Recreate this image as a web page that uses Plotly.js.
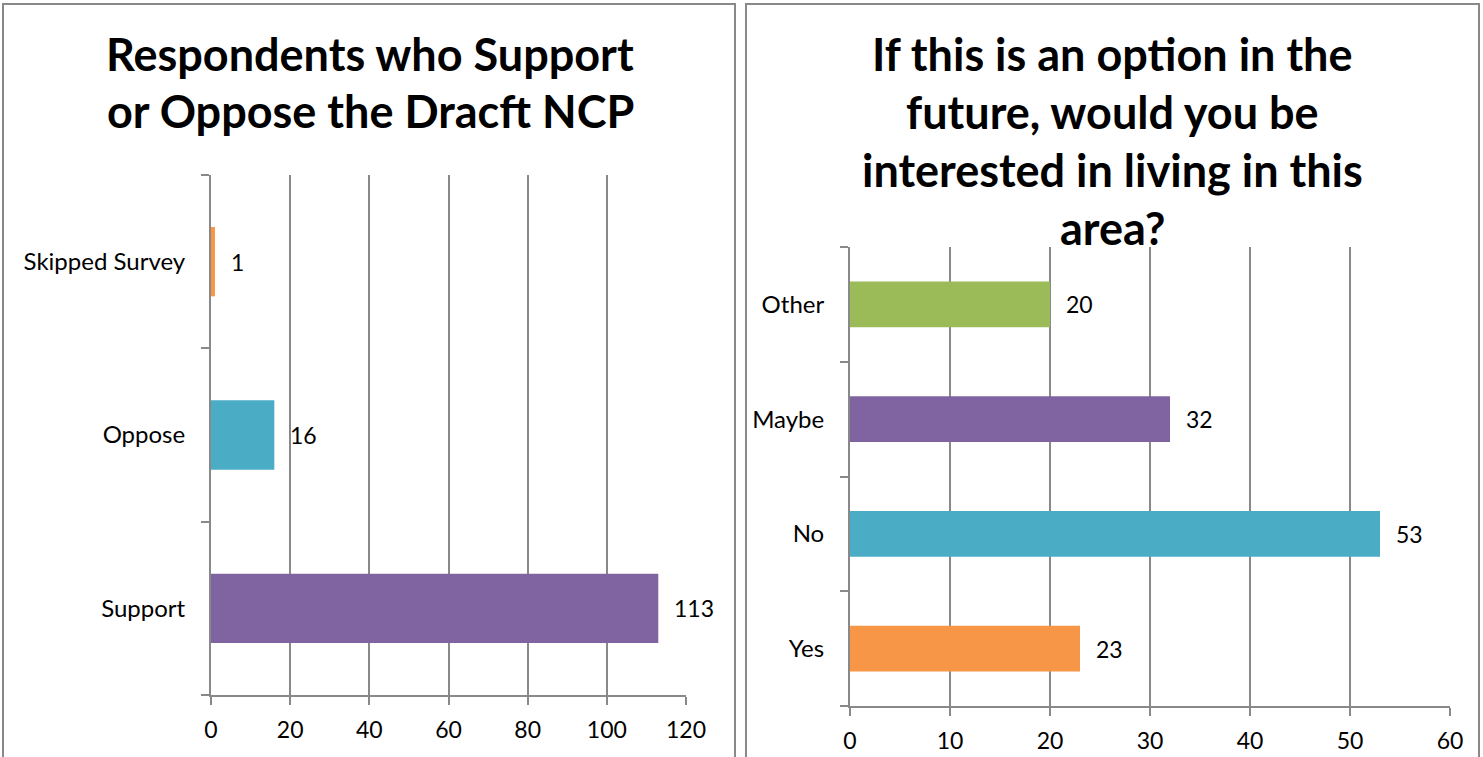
<!DOCTYPE html>
<html>
<head>
<meta charset="utf-8">
<script src="https://cdn.plot.ly/plotly-3.0.1.min.js"></script>
<style>html,body{margin:0;padding:0;background:#fff;}#chart{width:1483px;height:757px;}</style>
</head>
<body>
<div id="chart"></div>
<script>
// ---- Data ----
const leftCategories = ["Support", "Oppose", "Skipped Survey"];
const leftValues = [113, 16, 1];
const leftColors = ["#8064A2", "#4BACC6", "#F79646"];
const leftTitleLines = ["Respondents who Support", "or Oppose the Dracft NCP"];
const leftTicks = [0, 20, 40, 60, 80, 100, 120];

const rightCategories = ["Yes", "No", "Maybe", "Other"];
const rightValues = [23, 53, 32, 20];
const rightColors = ["#F79646", "#4BACC6", "#8064A2", "#9BBB59"];
const rightTitleLines = ["If this is an option in the", "future, would you be", "interested in living in this", "area?"];
const rightTicks = [0, 10, 20, 30, 40, 50, 60];

// ---- Layout helpers ----
const W = 1483, H = 757;
const px = x => x / W;
const py = y => 1 - y / H;
const FONT = "Lato, 'Open Sans', sans-serif";
const GRID = "#898989";

const traces = [
  {type: "bar", orientation: "h", x: leftValues, y: leftCategories,
   marker: {color: leftColors}, xaxis: "x", yaxis: "y", hoverinfo: "skip"},
  {type: "bar", orientation: "h", x: rightValues, y: rightCategories,
   marker: {color: rightColors}, xaxis: "x2", yaxis: "y2", hoverinfo: "skip"}
];

function xAxis(domain, ticks, anchor) {
  return {
    domain: domain, anchor: anchor, range: [0, ticks[ticks.length - 1]],
    tickvals: ticks, ticktext: ticks.map(String),
    showgrid: true, gridcolor: GRID, gridwidth: 2,
    showline: true, linecolor: GRID, linewidth: 2,
    ticks: "outside", ticklen: 8, tickwidth: 2, tickcolor: GRID,
    ticklabelstandoff: 5,
    zeroline: false, fixedrange: true,
    tickfont: {family: FONT, size: 23, color: "#000"}
  };
}
function yAxis(domain, cats, anchor) {
  return {
    domain: domain, anchor: anchor, type: "category",
    categoryorder: "array", categoryarray: cats,
    range: [-0.5, cats.length - 0.5],
    showgrid: false, showline: true, linecolor: GRID, linewidth: 2,
    ticks: "outside", tickson: "boundaries", ticklen: 8, tickwidth: 2, tickcolor: GRID,
    ticklabelstandoff: 19,
    zeroline: false, fixedrange: true,
    tickfont: {family: FONT, size: 24, color: "#000"}
  };
}

const annotations = [];
leftTitleLines.forEach((t, i) => annotations.push({
  xref: "paper", yref: "paper", x: px(370), y: py(54 + i * 57),
  xanchor: "center", yanchor: "middle", showarrow: false,
  text: "<b>" + t + "</b>", font: {family: FONT, size: 45, color: "#000"}
}));
rightTitleLines.forEach((t, i) => annotations.push({
  xref: "paper", yref: "paper", x: px(1112), y: py(54 + i * 58),
  xanchor: "center", yanchor: "middle", showarrow: false,
  text: "<b>" + t + "</b>", font: {family: FONT, size: 45, color: "#000"}
}));
leftValues.forEach((v, i) => annotations.push({
  xref: "x", yref: "y", x: v, y: leftCategories[i], xanchor: "left", yanchor: "middle",
  xshift: 14, showarrow: false, text: String(v), font: {family: FONT, size: 23, color: "#000"}
}));
rightValues.forEach((v, i) => annotations.push({
  xref: "x2", yref: "y2", x: v, y: rightCategories[i], xanchor: "left", yanchor: "middle",
  xshift: 14, showarrow: false, text: String(v), font: {family: FONT, size: 23, color: "#000"}
}));

const layout = {
  width: W, height: H, margin: {l: 0, r: 0, t: 0, b: 0},
  paper_bgcolor: "#fff", plot_bgcolor: "rgba(0,0,0,0)",
  showlegend: false, bargap: 0.6,
  xaxis: xAxis([px(211), px(686)], leftTicks, "y"),
  yaxis: yAxis([py(695), py(175)], leftCategories, "x"),
  xaxis2: xAxis([px(850), px(1450)], rightTicks, "y2"),
  yaxis2: yAxis([py(706), py(247)], rightCategories, "x2"),
  annotations: annotations,
  shapes: [
    {type: "rect", xref: "paper", yref: "paper", x0: px(3), x1: px(735), y0: -0.1, y1: py(4),
     line: {color: GRID, width: 2}, layer: "below"},
    {type: "rect", xref: "paper", yref: "paper", x0: px(746), x1: px(1479), y0: -0.1, y1: py(4),
     line: {color: GRID, width: 2}, layer: "below"}
  ]
};

Plotly.newPlot("chart", traces, layout, {staticPlot: true, displayModeBar: false});
</script>
</body>
</html>
